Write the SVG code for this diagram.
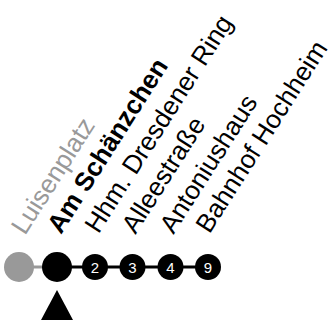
<svg xmlns="http://www.w3.org/2000/svg" width="333" height="323" viewBox="0 0 333 323">
<style>
.lbl{font-family:"Liberation Sans",Arial,sans-serif;font-size:26px;fill:#000}
.past{fill:#999}
.cur{font-weight:bold}
.num{font-family:"Liberation Sans",Arial,sans-serif;font-size:15px;fill:#fff;text-anchor:middle}
</style>
<rect width="333" height="323" fill="#fff"/>
<g id="connectors">
<line x1="19" y1="267" x2="57" y2="267" stroke="#999" stroke-width="3"/>
<line x1="57" y1="267" x2="208" y2="267" stroke="#000" stroke-width="3"/>
</g>
<g id="n0"><circle cx="19" cy="267" r="15" fill="#999"/><text class="lbl past" transform="translate(25,236) rotate(-57.5)">Luisenplatz</text></g>
<g id="n1"><circle cx="57" cy="267" r="15" fill="#000"/><text class="lbl cur" transform="translate(61,235) rotate(-57.5)">Am Schänzchen</text></g>
<g id="n2"><circle cx="95" cy="267" r="13" fill="#000"/><text class="num" x="95" y="272.5">2</text><text class="lbl" transform="translate(98.5,234.5) rotate(-57.5)">Hhm. Dresdener Ring</text></g>
<g id="n3"><circle cx="132.5" cy="267" r="13" fill="#000"/><text class="num" x="132.5" y="272.5">3</text><text class="lbl" transform="translate(135.5,235) rotate(-57.5)">Alleestraße</text></g>
<g id="n4"><circle cx="170.5" cy="267" r="13" fill="#000"/><text class="num" x="170.5" y="272.5">4</text><text class="lbl" transform="translate(173.5,235) rotate(-57.5)">Antoniushaus</text></g>
<g id="n5"><circle cx="208" cy="267" r="13" fill="#000"/><text class="num" x="208" y="272.5">9</text><text class="lbl" transform="translate(209.5,234.5) rotate(-57.5)">Bahnhof Hochheim</text></g>
<polygon id="marker" points="57,290 73,320 41,320" fill="#000"/>
</svg>
